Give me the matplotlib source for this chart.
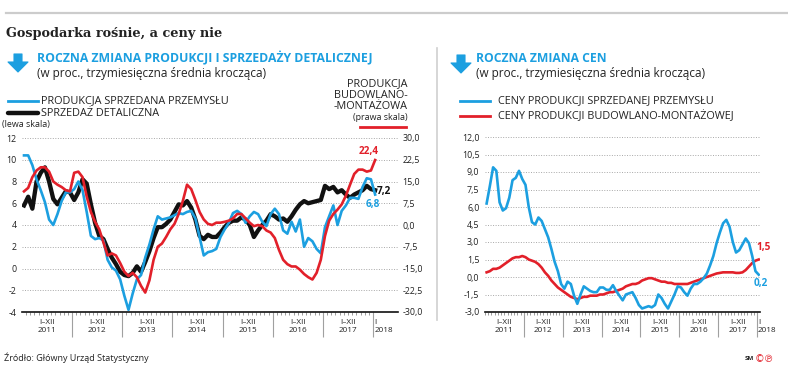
import matplotlib
matplotlib.use('Agg')
import matplotlib.pyplot as plt
import numpy as np
from matplotlib.patches import Polygon
from matplotlib.lines import Line2D

W, H = 788, 373
BLUE = '#1c9fe0'
RED = '#e2202a'
BLACK = '#111111'
TXT = '#222222'

plt.rcParams['font.family'] = ['Open Sans', 'DejaVu Sans']

# ---------------- data ----------------
years = ['2011', '2012', '2013', '2014', '2015', '2016', '2017']
year_span = 'I–XII'
last_month = 'I'
last_year = '2018'

# left chart (monthly, I 2011 – I 2018), % y/y, 3-month moving average
industry = [10.4, 10.4, 9.5, 8.2, 7.2, 6.1, 4.5, 4.0, 5.0, 6.2, 7.0, 7.0,
            7.3, 8.0, 7.2, 5.2, 3.0, 2.7, 2.8, 2.6, 0.8, 0.1, -0.2, -1.0,
            -2.5, -3.8, -2.3, -1.0, -0.6, 1.0, 2.2, 3.6, 4.8, 4.5, 4.6, 4.7,
            4.9, 5.1, 5.0, 5.2, 5.3, 4.6, 2.9, 1.2, 1.5, 1.6, 1.8, 2.9,
            3.6, 4.2, 5.1, 5.3, 5.0, 4.2, 4.8, 5.2, 5.0, 4.3, 3.9, 5.0,
            5.5, 5.0, 3.5, 3.2, 4.3, 3.4, 4.5, 2.0, 2.8, 2.5, 1.8, 1.4,
            3.8, 4.8, 5.8, 4.0, 5.3, 5.8, 6.5, 6.5, 6.4, 7.5, 8.3, 8.2,
            6.8]
retail = [5.8, 6.6, 5.5, 8.0, 8.8, 9.3, 8.0, 6.4, 5.9, 6.5, 7.1, 7.0,
          6.3, 7.0, 8.2, 7.8, 5.9, 4.2, 3.0, 2.7, 1.8, 1.0, 0.4, -0.3,
          -0.6, -0.7, -0.4, 0.2, -0.3, 0.6, 1.6, 2.8, 3.8, 3.8, 4.1, 4.5,
          5.2, 5.9, 5.8, 6.2, 5.6, 4.5, 3.0, 2.7, 3.1, 2.9, 2.9, 3.3,
          3.8, 4.2, 4.4, 4.4, 4.7, 4.5, 4.0, 2.9, 3.5, 4.0, 4.4, 5.0,
          4.8, 4.5, 4.6, 4.3, 4.8, 5.4, 5.9, 6.2, 6.0, 6.1, 6.2, 6.3,
          7.6, 7.3, 7.5, 7.0, 7.2, 6.8, 6.5, 6.8, 7.0, 7.2, 7.6, 7.3,
          7.2]
construction = [11.6, 12.8, 16.5, 18.8, 19.9, 19.9, 18.4, 15.0, 13.9, 13.1, 12.0, 11.6,
                18.0, 18.4, 16.5, 9.8, 4.5, 1.1, -1.5, -6.0, -10.5, -9.8, -10.5, -13.1,
                -16.1, -17.6, -16.5, -18.0, -21.0, -23.3, -19.1, -12.0, -7.5, -6.4, -4.1, -1.5,
                0.4, 3.8, 8.3, 13.9, 12.4, 8.6, 4.5, 1.9, 0.4, 0.0, 0.8, 0.8,
                1.1, 1.5, 2.3, 3.8, 3.8, 2.3, 0.8, -0.4, 0.0, -0.4, -1.9, -2.6,
                -4.5, -8.6, -12.0, -13.5, -14.3, -14.3, -15.4, -16.9, -18.0, -18.8, -16.5, -12.0,
                -3.8, 1.5, 3.8, 5.3, 7.1, 10.1, 13.9, 17.6, 19.1, 19.1, 18.4, 18.8,
                22.4]

# right chart: prices
ppi = [6.3, 7.8, 9.4, 9.1, 6.4, 5.7, 5.9, 6.8, 8.3, 8.5, 9.1, 8.4,
       7.9, 6.0, 4.7, 4.5, 5.1, 4.8, 4.1, 3.4, 2.4, 1.3, 0.5, -0.6,
       -1.0, -0.4, -0.6, -1.6, -2.3, -1.5, -0.8, -1.0, -1.2, -1.3, -1.3, -0.9,
       -0.9, -1.1, -1.1, -0.7, -1.2, -1.6, -2.0, -1.5, -1.4, -1.3, -1.8, -2.4,
       -2.7, -2.6, -2.5, -2.6, -2.4, -1.5, -1.8, -2.3, -2.7, -2.1, -1.5, -0.8,
       -0.9, -1.3, -1.6, -1.0, -0.6, -0.6, -0.4, -0.1, 0.3, 1.0, 1.8, 2.9,
       3.8, 4.6, 4.9, 4.3, 3.0, 2.1, 2.3, 2.8, 3.3, 2.9, 1.8, 0.5,
       0.2]
construction_prices = [0.4, 0.5, 0.7, 0.7, 0.8, 1.0, 1.2, 1.4, 1.6, 1.7, 1.7, 1.8,
                       1.7, 1.5, 1.4, 1.3, 1.1, 0.8, 0.4, 0.1, -0.3, -0.6, -0.9, -1.1,
                       -1.3, -1.5, -1.7, -1.8, -1.9, -1.8, -1.7, -1.7, -1.6, -1.6, -1.6, -1.5,
                       -1.5, -1.4, -1.3, -1.3, -1.2, -1.1, -1.0, -0.8, -0.7, -0.6, -0.6, -0.5,
                       -0.3, -0.2, -0.1, -0.1, -0.2, -0.3, -0.4, -0.4, -0.5, -0.5, -0.6, -0.6,
                       -0.6, -0.6, -0.6, -0.5, -0.4, -0.3, -0.2, -0.1, 0.0, 0.1, 0.2, 0.3,
                       0.35, 0.4, 0.4, 0.4, 0.4, 0.35, 0.35, 0.4, 0.6, 0.9, 1.2, 1.4,
                       1.5]

left_ticks = [-4, -2, 0, 2, 4, 6, 8, 10, 12]
right_ticks = [-30.0, -22.5, -15.0, -7.5, 0.0, 7.5, 15.0, 22.5, 30.0]
price_ticks = [-3.0, -1.5, 0.0, 1.5, 3.0, 4.5, 6.0, 7.5, 9.0, 10.5, 12.0]


def fmt(v, dec):
    return f'{v:.{dec}f}'.replace('.', ',')


def fx(x):
    return x / W


def fy(y):
    return 1 - y / H


fig = plt.figure(figsize=(W / 100, H / 100), dpi=100)

# ---------- decorations ----------
fig.add_artist(Line2D([fx(6), fx(788)], [fy(13), fy(13)], color='#cccccc', lw=1.6))
fig.text(fx(6), fy(33), 'Gospodarka rośnie, a ceny nie', family='DejaVu Serif',
         weight='bold', fontsize=9.3, color=TXT, va='center', ha='left')
fig.add_artist(Line2D([fx(437), fx(437)], [fy(48), fy(320)], color='#cfcfcf', lw=1.2))


def arrow(x0, y0):
    pts = [(x0 + 5, y0), (x0 + 13, y0), (x0 + 13, y0 + 8), (x0 + 19, y0 + 8),
           (x0 + 9, y0 + 18), (x0 - 1, y0 + 8), (x0 + 5, y0 + 8)]
    fig.add_artist(Polygon([(fx(a), fy(b)) for a, b in pts], closed=True,
                           transform=fig.transFigure, color=BLUE, lw=0.8,
                           joinstyle='round'))


arrow(9, 54)
arrow(452, 55)

fig.text(fx(37), fy(58), 'ROCZNA ZMIANA PRODUKCJI I SPRZEDAŻY DETALICZNEJ',
         color=BLUE, weight='bold', fontsize=8.85, va='center', ha='left')
fig.text(fx(37), fy(73), '(w proc., trzymiesięczna średnia krocząca)',
         color=TXT, fontsize=8.45, va='center', ha='left')
fig.text(fx(476), fy(58), 'ROCZNA ZMIANA CEN',
         color=BLUE, weight='bold', fontsize=8.7, va='center', ha='left')
fig.text(fx(476), fy(73), '(w proc., trzymiesięczna średnia krocząca)',
         color=TXT, fontsize=8.45, va='center', ha='left')

LEG = 7.8
# left legend
fig.add_artist(Line2D([fx(8), fx(38)], [fy(101), fy(101)], color=BLUE, lw=2.0))
fig.text(fx(41), fy(101), 'PRODUKCJA SPRZEDANA PRZEMYSŁU', color=TXT,
         fontsize=LEG, va='center', ha='left')
fig.add_artist(Line2D([fx(8), fx(38)], [fy(113), fy(113)], color=BLACK, lw=3.2,
                      solid_capstyle='round'))
fig.text(fx(41), fy(113), 'SPRZEDAŻ DETALICZNA', color=TXT,
         fontsize=LEG, va='center', ha='left')
fig.text(fx(2), fy(124), '(lewa skala)', color=TXT, fontsize=6.4, va='center', ha='left')

fig.text(fx(408), fy(95), 'PRODUKCJA\nBUDOWLANO-\n-MONTAŻOWA', color=TXT,
         fontsize=LEG, va='center', ha='right', multialignment='right', linespacing=1.05)
fig.text(fx(408), fy(118), '(prawa skala)', color=TXT, fontsize=6.4, va='center', ha='right')
fig.add_artist(Line2D([fx(360), fx(406)], [fy(127), fy(127)], color=RED, lw=2.0))

# right legend
fig.add_artist(Line2D([fx(460), fx(490)], [fy(101), fy(101)], color=BLUE, lw=2.0))
fig.text(fx(498), fy(101), 'CENY PRODUKCJI SPRZEDANEJ PRZEMYSŁU', color=TXT,
         fontsize=LEG, va='center', ha='left')
fig.add_artist(Line2D([fx(460), fx(490)], [fy(116), fy(116)], color=RED, lw=2.0))
fig.text(fx(498), fy(116), 'CENY PRODUKCJI BUDOWLANO-MONTAŻOWEJ', color=TXT,
         fontsize=LEG, va='center', ha='left')

fig.text(fx(4), fy(358), 'Źródło: Główny Urząd Statystyczny', color=TXT,
         fontsize=6.5, va='center', ha='left')
fig.text(fx(745), fy(359), 'SM', color=TXT, fontsize=4.5, weight='bold', va='center', ha='left')
fig.text(fx(755), fy(359), '©℗', family='DejaVu Sans', color=RED, fontsize=7,
         va='center', ha='left')


def style_axis(ax, n_months, yticks, ylabels):
    for s in ['top', 'right', 'left']:
        ax.spines[s].set_visible(False)
    ax.spines['bottom'].set_color(BLACK)
    ax.spines['bottom'].set_linewidth(1.2)
    ax.set_yticks(yticks)
    ax.set_yticklabels(ylabels)
    ax.tick_params(axis='y', length=0, pad=4, labelsize=6.4, labelcolor=TXT)
    ax.yaxis.grid(True, color='#a8a8a8', linestyle=(0, (1, 1.6)), lw=0.7)
    ax.set_axisbelow(True)
    majors = [12 * i - 0.5 for i in range(1, len(years) + 1)]
    ax.set_xticks(majors)
    ax.set_xticklabels([])
    ax.set_xticks(np.arange(-0.5, n_months - 0.5, 1.0), minor=True)
    ax.tick_params(axis='x', which='major', length=18, width=0.8, color='#a0a0a0')
    ax.tick_params(axis='x', which='minor', length=2.5, width=0.6, color='#8a8a8a')
    tr = ax.get_xaxis_transform()
    off = -6.5 / (ax.get_position().height * H)
    for i, yname in enumerate(years):
        ax.text(12 * i + 5.5, off, year_span + '\n' + yname, transform=tr,
                ha='center', va='top', fontsize=5.9, color=TXT, linespacing=1.35)
    ax.text(n_months - 1 - 0.2, off, last_month + '\n' + last_year, transform=tr,
            ha='left', va='top', fontsize=5.9, color=TXT, linespacing=1.35)


# ---------- left chart ----------
n = len(industry)
months = np.arange(n)
axL = fig.add_axes([fx(22), fy(312), (398 - 22) / W, (312 - 138) / H])
axL.plot(months, retail, color=BLACK, lw=3.1, solid_joinstyle='round', zorder=3)
axL.plot(months, industry, color=BLUE, lw=1.9, zorder=4)
axL.set_xlim(-0.48, 89.47)
axL.set_ylim(-4, 12)
style_axis(axL, n, left_ticks, [str(v) for v in left_ticks])

axR = axL.twinx()
axR.plot(months, construction, color=RED, lw=1.9, zorder=5)
axR.set_ylim(-30, 30)
axR.set_xlim(-0.48, 89.47)
for s in ['top', 'right', 'left', 'bottom']:
    axR.spines[s].set_visible(False)
axR.set_yticks(right_ticks)
axR.set_yticklabels([fmt(v, 1) for v in right_ticks])
axR.tick_params(axis='y', length=0, pad=3, labelsize=6.4, labelcolor=TXT)

axR.annotate(fmt(construction[-1], 1), (months[-1], construction[-1]),
             xytext=(-4.5, 2.5), textcoords='offset points', ha='center', va='bottom',
             color=RED, weight='bold', fontsize=7.2)
axL.annotate(fmt(retail[-1], 1), (months[-1], retail[-1]),
             xytext=(1.5, -1), textcoords='offset points', ha='left', va='center',
             color=BLACK, weight='bold', fontsize=7.2)
axL.annotate(fmt(industry[-1], 1), (months[-1], industry[-1]),
             xytext=(-2, -3.5), textcoords='offset points', ha='center', va='top',
             color=BLUE, weight='bold', fontsize=7.2)

# ---------- right chart ----------
n2 = len(ppi)
m2 = np.arange(n2)
axP = fig.add_axes([fx(485), fy(312), (760 - 485) / W, (312 - 137) / H])
axP.plot(m2, construction_prices, color=RED, lw=1.9, zorder=3)
axP.plot(m2, ppi, color=BLUE, lw=1.9, zorder=4)
axP.set_xlim(-0.31, 84.4)
axP.set_ylim(-3, 12)
style_axis(axP, n2, price_ticks, [fmt(v, 1) for v in price_ticks])
axP.annotate(fmt(construction_prices[-1], 1), (m2[-1], construction_prices[-1]),
             xytext=(-2, 4.5), textcoords='offset points', ha='left', va='bottom',
             color=RED, weight='bold', fontsize=7.2)
axP.annotate(fmt(ppi[-1], 1), (m2[-1], ppi[-1]),
             xytext=(-3.5, -2.5), textcoords='offset points', ha='left', va='top',
             color=BLUE, weight='bold', fontsize=7.2)

fig.savefig('out.png', dpi=100)
